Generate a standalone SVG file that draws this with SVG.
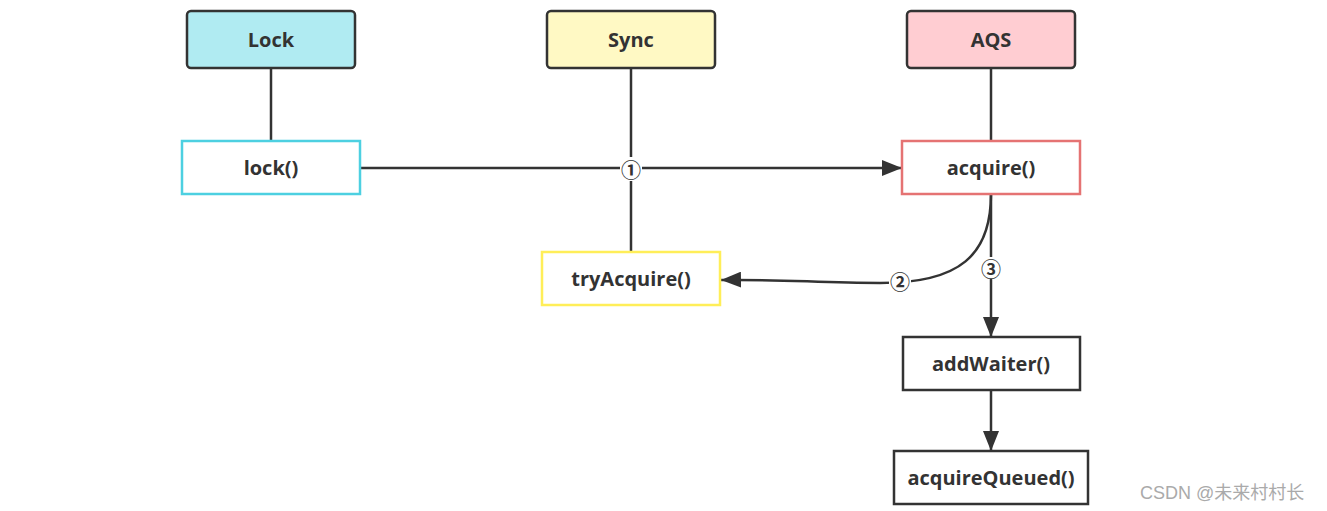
<svg xmlns="http://www.w3.org/2000/svg" width="1327" height="511" viewBox="0 0 1327 511">
<style>
.t{font-family:"Open Sans","Noto Sans","Liberation Sans",sans-serif;font-weight:bold;font-size:20px;fill:#333;text-anchor:middle;dominant-baseline:central}
.hdr{stroke:#333;stroke-width:2.5}
.ln{stroke:#333;stroke-width:2.5;fill:none}
.num{font-family:"Noto Sans CJK SC","DejaVu Sans",sans-serif;font-weight:bold;font-size:20px;fill:#333;text-anchor:middle;dominant-baseline:central}
.bg{fill:#fff}
</style>
<defs>
<marker id="ah2" markerWidth="20" markerHeight="16" refX="20" refY="8" orient="auto" markerUnits="userSpaceOnUse" viewBox="0 0 20 16">
<path d="M0,0 L20,8 L0,16 z" fill="#333"/>
</marker>
</defs>
<rect width="1327" height="511" fill="#fff"/>
<g id="connectors">
<line class="ln" x1="271" y1="68" x2="271" y2="141"/>
<line class="ln" x1="631" y1="68" x2="631" y2="252"/>
<line class="ln" x1="991" y1="68" x2="991" y2="141"/>
<line class="ln" x1="360" y1="168" x2="902" y2="168" marker-end="url(#ah2)"/>
<path class="ln" d="M991,194 C991,255 960,283 880,283 C820,283 780,279 721,280" marker-end="url(#ah2)"/>
<line class="ln" x1="991" y1="194" x2="991" y2="337" marker-end="url(#ah2)"/>
<line class="ln" x1="991" y1="390" x2="991" y2="451" marker-end="url(#ah2)"/>
<rect class="bg" x="620" y="157" width="22" height="24"/>
<text class="num" x="631" y="169">①</text>
<rect class="bg" x="889" y="270" width="22" height="22"/>
<text class="num" x="900" y="281">②</text>
<rect class="bg" x="980" y="257" width="22" height="22"/>
<text class="num" x="991" y="268">③</text>
</g>
<g id="Lock"><rect class="hdr" x="187" y="11" width="168" height="57" rx="4" fill="#b0ebf2"/><text class="t" x="271" y="39">Lock</text></g>
<g id="Sync"><rect class="hdr" x="547" y="11" width="168" height="57" rx="4" fill="#fff9c4"/><text class="t" x="631" y="39">Sync</text></g>
<g id="AQS"><rect class="hdr" x="907" y="11" width="168" height="57" rx="4" fill="#ffcdd2"/><text class="t" x="991" y="39">AQS</text></g>
<g id="lock"><rect x="182" y="141" width="178" height="53" fill="#fff" stroke="#4dd0e1" stroke-width="2.5"/><text class="t" x="271" y="167">lock()</text></g>
<g id="tryAcquire"><rect x="542" y="252" width="178" height="53" fill="#fff" stroke="#ffee58" stroke-width="2.5"/><text class="t" x="631" y="278">tryAcquire()</text></g>
<g id="acquire"><rect x="902" y="141" width="178" height="53" fill="#fff" stroke="#e57373" stroke-width="2.5"/><text class="t" x="991" y="167">acquire()</text></g>
<g id="addWaiter"><rect x="903" y="337" width="177" height="53" fill="#fff" stroke="#333" stroke-width="2.5"/><text class="t" x="991" y="363">addWaiter()</text></g>
<g id="acquireQueued"><rect x="894" y="451" width="194" height="53" fill="#fff" stroke="#333" stroke-width="2.5"/><text class="t" x="991" y="477">acquireQueued()</text></g>
<text x="1140" y="499" font-family="'Liberation Sans','Noto Sans CJK SC',sans-serif" font-size="18" fill="#aaa">CSDN @未来村村长</text>
</svg>
